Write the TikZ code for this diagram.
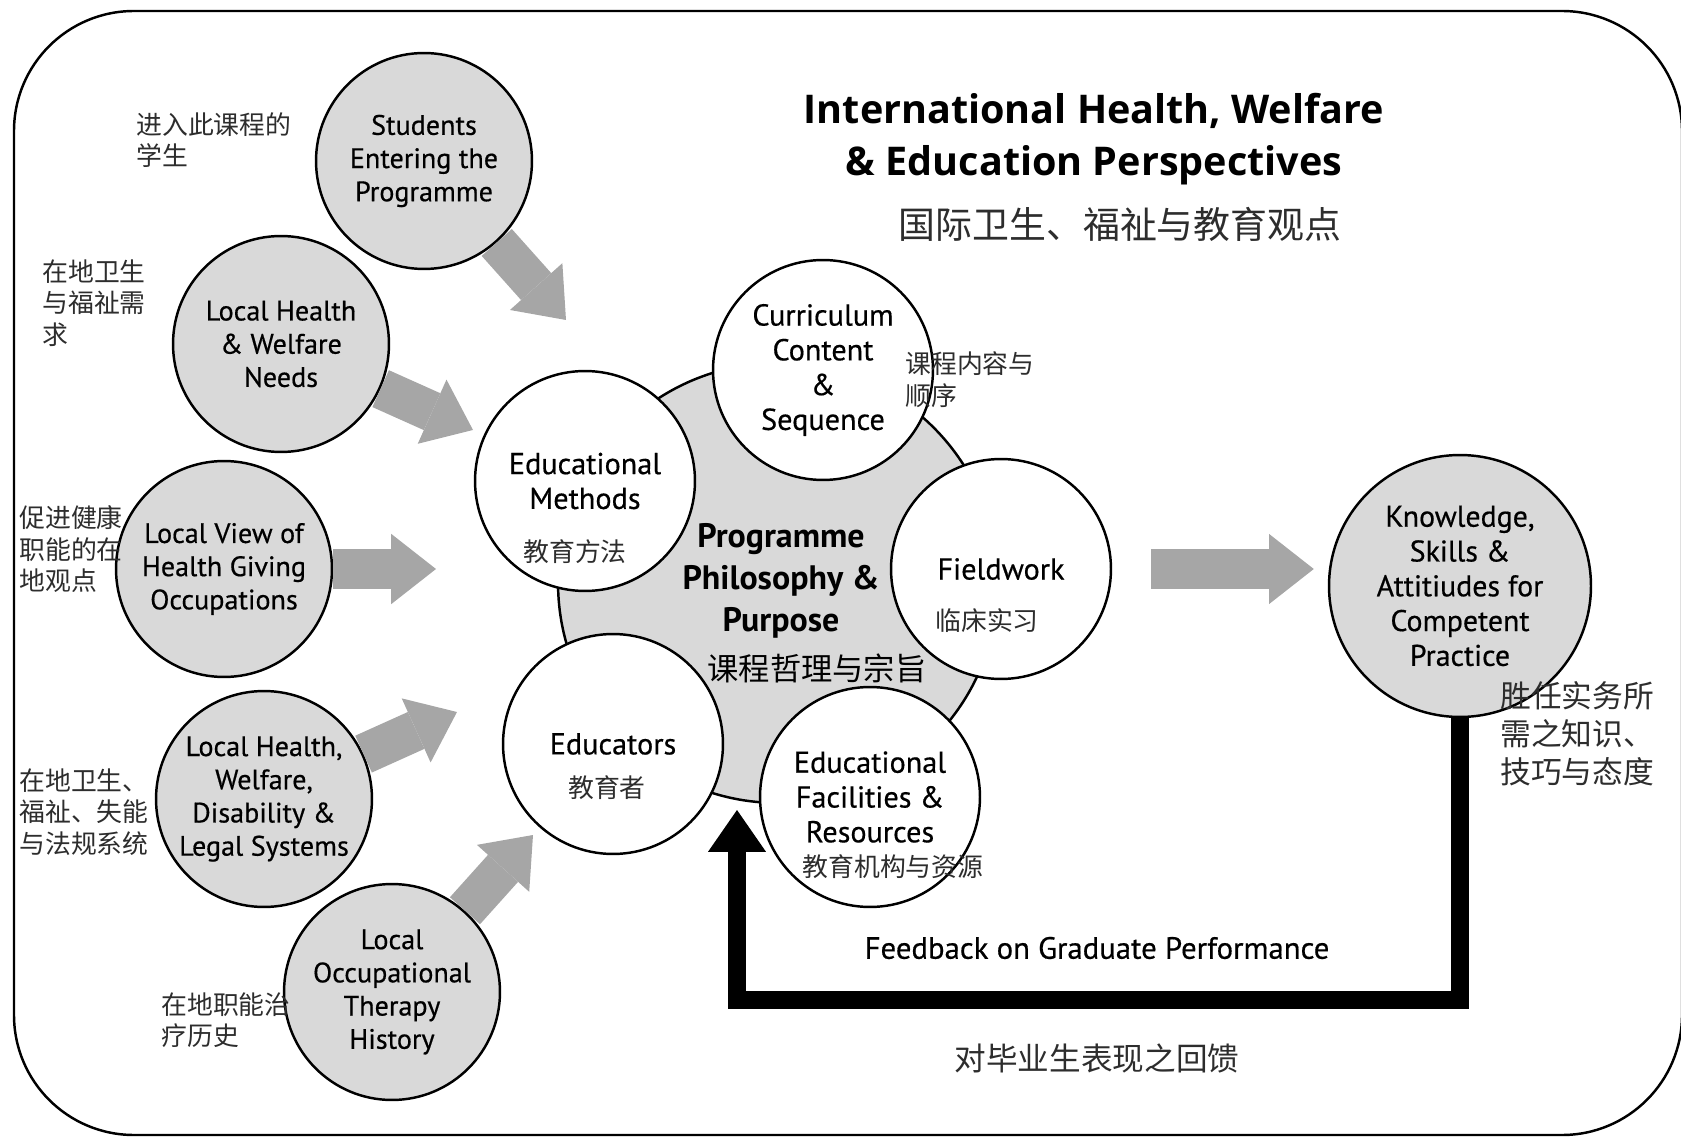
\documentclass[tikz,border=0pt]{standalone}
\usepackage{fontspec}
\setmainfont{PT Sans}[FakeBold=0.5, BoldFont=PT Sans Bold, BoldFeatures={FakeBold=0}]
\newfontfamily\titlefont{Open Sans}
\newfontfamily\zhfont{Noto Sans CJK SC}
\usepackage{tikz}
\usetikzlibrary{arrows.meta, calc}
\definecolor{ringfill}{RGB}{217,217,217}
\definecolor{flowgray}{RGB}{166,166,166}
\definecolor{zhgray}{RGB}{45,45,45}
\tikzset{
  sidecircle/.style={circle, draw=black, fill=ringfill, line width=1.4pt,
    minimum size=4.32cm, inner sep=0pt, align=center,
    font=\fontsize{16}{18.9}\selectfont},
  corecircle/.style={sidecircle, fill=white, minimum size=4.4cm,
    font=\fontsize{17.2}{19.8}\selectfont},
  hubcircle/.style={sidecircle, minimum size=8.8cm},
  goalcircle/.style={sidecircle, minimum size=5.24cm,
    font=\fontsize{17}{19.8}\selectfont},
  zhlabel/.style={inner sep=0pt, align=left, text=zhgray,
    font=\zhfont\fontsize{14.7}{18.1}\selectfont},
  flow/.style={draw=flowgray, line width=23pt,
    -{Triangle[length=25.5pt, width=40pt, line width=0pt]}},
  feedback/.style={draw=black, line width=10.2pt, line join=miter,
    -{Triangle[length=23.8pt, width=33pt, line width=0pt]}}
}

\begin{document}
\begin{tikzpicture}[x=0.02cm, y=-0.02cm]
  \useasboundingbox (0,0) rectangle (1681,1138);

  % Outer frame
  \draw[line width=1.4pt, rounded corners=2.4cm] (14,11) rectangle (1682,1135);

  % Title
  \node[font=\titlefont\bfseries\fontsize{22.5}{29.3}\selectfont, align=center] (title) at (1094,139)
    {International Health, Welfare\\ \& Education Perspectives};
  \node[font=\zhfont\fontsize{21}{25}\selectfont, text=zhgray] (zhtitle) at (1120,224) {国际卫生、福祉与教育观点};

  % Programme core
  \node[hubcircle] (prog) at (778,583) {};
  \node[corecircle] (methods) at (585,481) {Educational\\ Methods};
  \node[corecircle] (curric) at (823,370) {Curriculum\\ Content\\ \&\\ Sequence};
  \node[corecircle] (field) at (1001,569) {Fieldwork};
  \node[corecircle] (educators) at (613,744) {Educators};
  \node[corecircle] (facil) at (870,797) {Educational\\ Facilities \&\\ Resources};
  \node[font=\bfseries\fontsize{19.3}{23.8}\selectfont, align=center] (progtext) at (781,581)
    {Programme\\ Philosophy \&\\ Purpose};
  \node[font=\zhfont\fontsize{17.8}{21}\selectfont] (zhprog) at (817,668) {课程哲理与宗旨};

  % Local inputs
  \node[sidecircle] (stud) at (424,161) {Students\\ Entering the\\ Programme};
  \node[sidecircle] (needs) at (281,344) {Local Health\\ \& Welfare\\ Needs};
  \node[sidecircle] (view) at (224,569) {Local View of\\ Health Giving\\ Occupations};
  \node[sidecircle] (systems) at (264,799) {Local Health,\\ Welfare,\\ Disability \&\\ Legal Systems};
  \node[sidecircle] (history) at (392,992) {Local\\ Occupational\\ Therapy\\ History};

  \coordinate (studtip) at (566,320);
  \coordinate (needstip) at (473,430);
  \coordinate (viewtip) at (436,569);
  \coordinate (systip) at (457,712);
  \coordinate (histtip) at (533,835);
  \draw[flow] (stud) -- (studtip);
  \draw[flow] (needs) -- (needstip);
  \draw[flow] (view) -- (viewtip);
  \draw[flow] (systems) -- (systip);
  \draw[flow] (history) -- (histtip);

  % Outcome
  \node[goalcircle] (know) at (1460,586)
    {Knowledge,\\ Skills \&\\ Attitiudes for\\ Competent\\ Practice};
  \draw[flow, shorten >=0.28cm] (field.east) ++(39,0) -- (know.west |- field.east);

  % Feedback loop
  \coordinate (fbturn) at (737,1000);
  \coordinate (fbtip) at (737,810);
  \draw[feedback] (know) |- (fbturn) -- (fbtip);
  \node[font=\fontsize{17.5}{20}\selectfont] (fbtext) at (1097,948) {Feedback on Graduate Performance};
  \node[font=\zhfont\fontsize{18}{22}\selectfont, text=zhgray] (zhfb) at (1097,1058) {对毕业生表现之回馈};

  % Chinese labels
  \node[zhlabel, anchor=north west] (zhstud) at (136,112) {进入此课程的\\学生};
  \node[zhlabel, anchor=north west] (zhneeds) at (42,259) {在地卫生\\与福祉需\\求};
  \node[zhlabel, anchor=north west] (zhview) at (19,505) {促进健康\\职能的在\\地观点};
  \node[zhlabel, anchor=north west] (zhsys) at (19,768) {在地卫生、\\福祉、失能\\与法规系统};
  \node[zhlabel, anchor=north west] (zhhist) at (161,992) {在地职能治\\疗历史};
  \node[zhlabel, anchor=north west] (zhcurric) at (905,351) {课程内容与\\顺序};
  \node[zhlabel] (zhmethods) at (575,552) {教育方法};
  \node[zhlabel] (zhfield) at (987,621) {临床实习};
  \node[zhlabel] (zheducators) at (607,788) {教育者};
  \node[zhlabel] (zhfacil) at (893,867) {教育机构与资源};
  \node[zhlabel, anchor=north west, font=\zhfont\fontsize{17.5}{21.8}\selectfont] (zhknow) at (1500,681)
    {胜任实务所\\需之知识、\\技巧与态度};
\end{tikzpicture}
\end{document}
